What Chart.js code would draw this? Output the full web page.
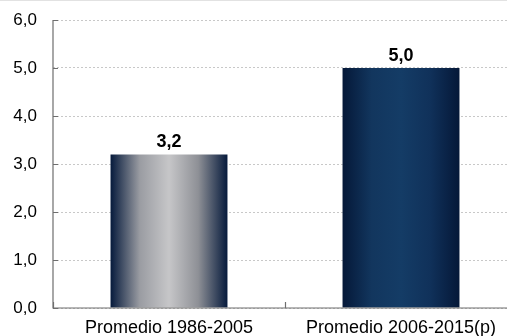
<!DOCTYPE html>
<html lang="es">
<head>
    <meta charset="UTF-8">
    <title>Promedio</title>
    <script src="https://cdn.jsdelivr.net/npm/chart.js@4.4.0/dist/chart.umd.min.js"></script>
    <style>
        html, body { margin: 0; padding: 0; overflow: hidden; background: #fff; }
        #wrap { width: 517px; height: 336px; position: relative; }
        #topline { position: absolute; left: 0; top: 0; width: 507px; height: 1px; background: #e2e2e2; }
    </style>
</head>
<body>
    <div id="wrap"><canvas id="myChart"></canvas><div id="topline"></div></div>
    <script>
        const categories = ['Promedio 1986-2005', 'Promedio 2006-2015(p)'];
        const values     = [3.2, 5.0];
        const yTicks     = [0, 1, 2, 3, 4, 5, 6];

        const barStops = [
            ['#061a3c', '#9a9ca2', '#c6c6c8', '#8e9096', '#061a3c'],
            ['#051838', '#12365e', '#143c66', '#10315a', '#051838']
        ];
        const BAR_PCT = 0.504;
        const FONT = '"Liberation Sans", Arial, sans-serif';

        const fmt = v => v.toFixed(1).replace('.', ',');

        function barFill(ctx) {
            const chart = ctx.chart;
            const xs = chart.scales.x;
            const stops = barStops[ctx.dataIndex];
            if (!xs || !chart.chartArea) return stops[0];
            const cx = xs.getPixelForValue(ctx.dataIndex);
            const half = (xs.width / categories.length) * BAR_PCT / 2;
            if (!isFinite(cx) || !isFinite(half)) return stops[0];
            const g = chart.ctx.createLinearGradient(cx - half, 0, cx + half, 0);
            stops.forEach((c, i) => g.addColorStop(i / (stops.length - 1), c));
            return g;
        }

        // axis lines, inward ticks and value labels
        const decor = {
            id: 'decor',
            afterDatasetsDraw(chart) {
                const c = chart.ctx;
                const x = chart.scales.x, y = chart.scales.y;
                const area = chart.chartArea;
                c.save();
                c.strokeStyle = '#6e6e6e';
                c.lineWidth = 1.2;
                c.beginPath();
                c.moveTo(area.left, area.top);
                c.lineTo(area.left, area.bottom);
                c.lineTo(area.right, area.bottom);
                yTicks.forEach(t => {
                    const py = Math.round(y.getPixelForValue(t)) + 0.5;
                    c.moveTo(area.left, py);
                    c.lineTo(area.left + 5, py);
                });
                for (let i = 0; i <= categories.length; i++) {
                    const px = Math.round(x.getPixelForValue(i - 0.5)) + 0.5;
                    c.moveTo(px, area.bottom);
                    c.lineTo(px, area.bottom - 6);
                }
                c.stroke();

                c.fillStyle = '#000';
                c.font = 'bold 18px ' + FONT;
                c.textAlign = 'center';
                c.textBaseline = 'alphabetic';
                chart.getDatasetMeta(0).data.forEach((bar, i) => {
                    c.fillText(fmt(values[i]), bar.x, bar.y - 7);
                });
                c.restore();
            }
        };

        const ctx = document.getElementById('myChart').getContext('2d');
        const myChart = new Chart(ctx, {
            type: 'bar',
            data: {
                labels: categories,
                datasets: [{
                    data: values,
                    backgroundColor: barFill,
                    borderWidth: 0,
                    barPercentage: BAR_PCT,
                    categoryPercentage: 1.0
                }]
            },
            options: {
                responsive: true,
                maintainAspectRatio: false,
                animation: false,
                layout: { padding: { top: 20, right: 0, left: 0, bottom: 0 } },
                plugins: { legend: { display: false }, tooltip: { enabled: false } },
                scales: {
                    x: {
                        grid: { display: false, drawTicks: false },
                        border: { display: false },
                        ticks: {
                            color: '#000',
                            padding: 9,
                            maxRotation: 0,
                            font: { family: FONT, size: 18 }
                        },
                        afterFit(s) { s.height = 28; }
                    },
                    y: {
                        min: 0,
                        max: 6,
                        afterBuildTicks(s) { s.ticks = yTicks.map(v => ({ value: v })); },
                        grid: {
                            color: '#c8c8c8',
                            lineWidth: 1,
                            drawTicks: true,
                            tickLength: 12,
                            tickColor: 'rgba(0,0,0,0)'
                        },
                        border: { display: false, dash: [2, 2] },
                        ticks: {
                            color: '#000',
                            padding: 4,
                            callback: v => fmt(v),
                            font: { family: FONT, size: 17 }
                        },
                        afterFit(s) { s.width = 53; }
                    }
                }
            },
            plugins: [decor]
        });
    </script>
</body>
</html>
